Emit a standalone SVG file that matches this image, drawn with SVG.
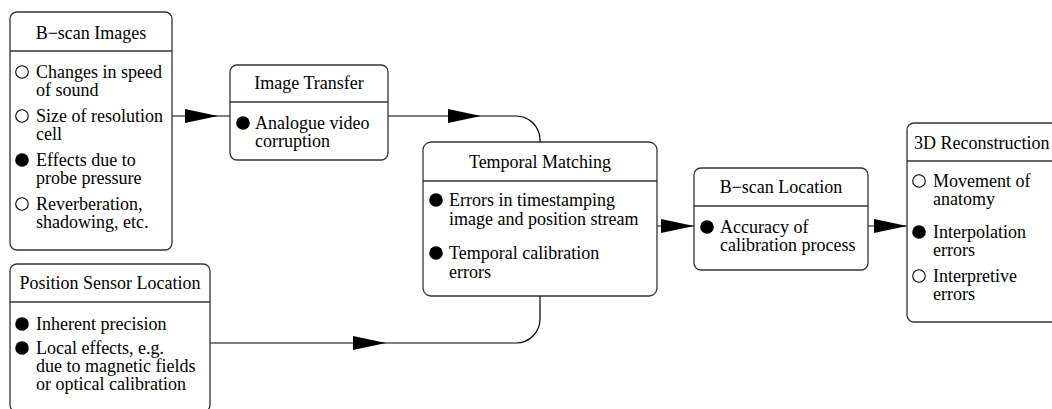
<svg xmlns="http://www.w3.org/2000/svg" xmlns:xlink="http://www.w3.org/1999/xlink" width="1052" height="409" viewBox="0 0 1052 409">
<style>
.box{fill:#fff;stroke:#333;stroke-width:1.3}
.sep{stroke:#333;stroke-width:1.3}
text{font-family:"Liberation Serif","Times New Roman",serif;font-size:18px;fill:#000}
.t{text-anchor:middle}
.o{fill:#fff;stroke:#000;stroke-width:1.1}
.f{fill:#000}
.c{fill:none;stroke:#000;stroke-width:1.2}
</style>
<defs>
<path id="ah" d="M-33,-7 L0,0 L-33,7 Z" fill="#000"/>
</defs>
<rect width="1052" height="409" fill="#fff"/>
<g id="connectors">
<path class="c" d="M172,116 H230"/>
<use xlink:href="#ah" x="218" y="116"/>
<path class="c" d="M388,116 H516 A24,24 0 0 1 540,140 V142"/>
<use xlink:href="#ah" x="481" y="116"/>
<path class="c" d="M657,226 H694"/>
<use xlink:href="#ah" x="694" y="226"/>
<path class="c" d="M868,226 H907"/>
<use xlink:href="#ah" x="907" y="226"/>
<path class="c" d="M210,343 H516 A24,24 0 0 0 540,319 V296"/>
<use xlink:href="#ah" x="386" y="343"/>
</g>
<g id="bscan-images">
<rect class="box" x="10" y="12" width="162" height="238" rx="7"/>
<line class="sep" x1="10" y1="51" x2="172" y2="51"/>
<text class="t" x="91" y="39">B−scan Images</text>
<circle class="o" cx="22" cy="72" r="6.3"/>
<text x="36" y="78">Changes in speed</text>
<text x="36" y="96">of sound</text>
<circle class="o" cx="22" cy="116" r="6.3"/>
<text x="36" y="122">Size of resolution</text>
<text x="36" y="140">cell</text>
<circle class="f" cx="22" cy="160" r="6.8"/>
<text x="36" y="166">Effects due to</text>
<text x="36" y="184">probe pressure</text>
<circle class="o" cx="22" cy="204" r="6.3"/>
<text x="36" y="210">Reverberation,</text>
<text x="36" y="228">shadowing, etc.</text>
</g>
<g id="image-transfer">
<rect class="box" x="230" y="65" width="158" height="95" rx="7"/>
<line class="sep" x1="230" y1="102" x2="388" y2="102"/>
<text class="t" x="309" y="89">Image Transfer</text>
<circle class="f" cx="243" cy="123" r="6.8"/>
<text x="255" y="129">Analogue video</text>
<text x="255" y="147">corruption</text>
</g>
<g id="temporal-matching">
<rect class="box" x="423" y="142" width="234" height="154" rx="8"/>
<line class="sep" x1="423" y1="181" x2="657" y2="181"/>
<text class="t" x="540" y="168">Temporal Matching</text>
<circle class="f" cx="436" cy="200" r="6.8"/>
<text x="449" y="206">Errors in timestamping</text>
<text x="449" y="225">image and position stream</text>
<circle class="f" cx="436" cy="253" r="6.8"/>
<text x="449" y="259">Temporal calibration</text>
<text x="449" y="278">errors</text>
</g>
<g id="bscan-location">
<rect class="box" x="694" y="168" width="174" height="102" rx="7"/>
<line class="sep" x1="694" y1="206" x2="868" y2="206"/>
<text class="t" x="781" y="193">B−scan Location</text>
<circle class="f" cx="707" cy="227" r="6.8"/>
<text x="720" y="233">Accuracy of</text>
<text x="720" y="251">calibration process</text>
</g>
<g id="reconstruction-3d">
<rect class="box" x="907" y="123" width="160" height="199" rx="7"/>
<line class="sep" x1="907" y1="161" x2="1067" y2="161"/>
<text x="914" y="149">3D Reconstruction</text>
<circle class="o" cx="919" cy="181" r="6.3"/>
<text x="933" y="187">Movement of</text>
<text x="933" y="205">anatomy</text>
<circle class="f" cx="919" cy="232" r="6.8"/>
<text x="933" y="238">Interpolation</text>
<text x="933" y="256">errors</text>
<circle class="o" cx="919" cy="276" r="6.3"/>
<text x="933" y="282">Interpretive</text>
<text x="933" y="300">errors</text>
</g>
<g id="position-sensor">
<rect class="box" x="10" y="264" width="200" height="148" rx="7"/>
<line class="sep" x1="10" y1="302" x2="210" y2="302"/>
<text class="t" x="110" y="289">Position Sensor Location</text>
<circle class="f" cx="22" cy="324" r="6.8"/>
<text x="36" y="330">Inherent precision</text>
<circle class="f" cx="22" cy="348" r="6.8"/>
<text x="36" y="354">Local effects, e.g.</text>
<text x="36" y="372">due to magnetic fields</text>
<text x="36" y="390">or optical calibration</text>
</g>
</svg>
